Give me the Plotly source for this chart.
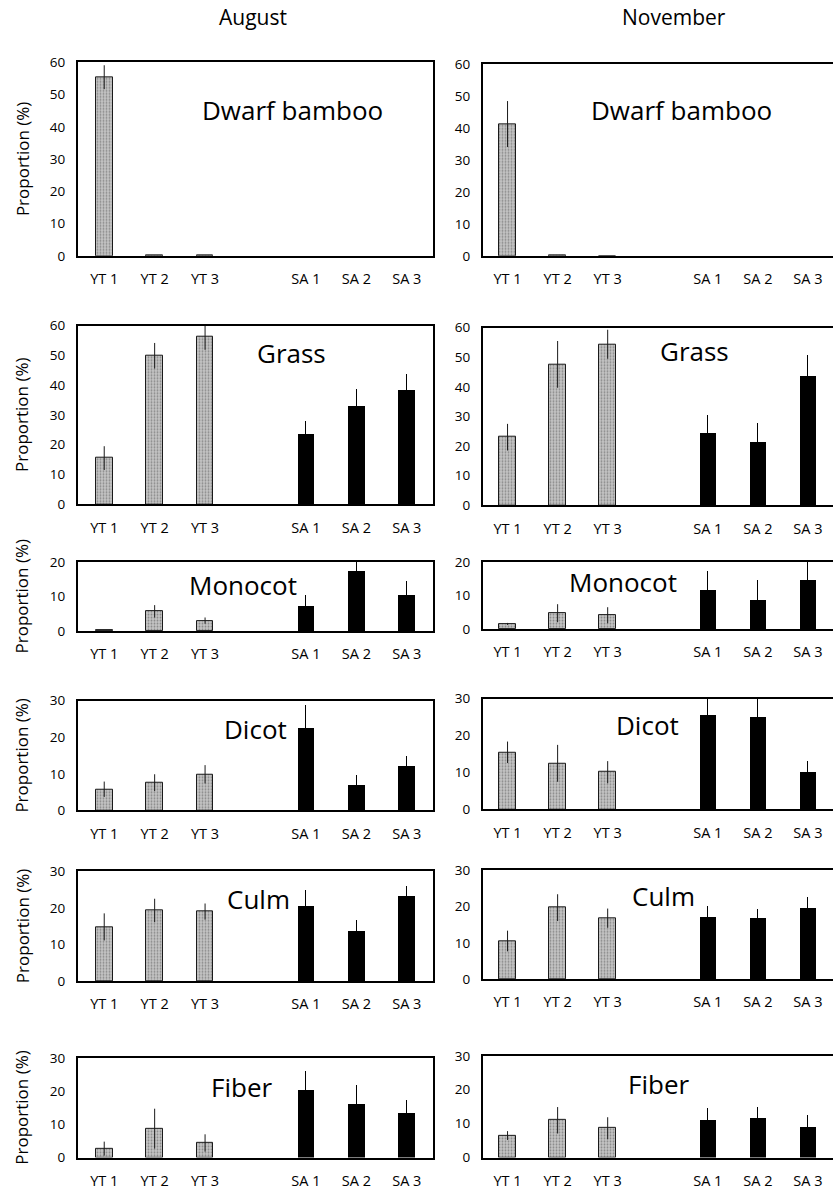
import plotly.graph_objects as go

W, H = 833, 1190

categories = ["YT 1", "YT 2", "YT 3", "SA 1", "SA 2", "SA 3"]
slots = [0, 1, 2, 4, 5, 6]
months = ["August", "November"]
panels = ["Dwarf bamboo", "Grass", "Monocot", "Dicot", "Culm", "Fiber"]
y_max = [60, 60, 20, 30, 30, 30]

aug_dwarf = [55.4, 0.3, 0.3, 0, 0, 0]
aug_dwarf_err = [3.7, 0, 0, 0, 0, 0]
nov_dwarf = [41.3, 0.3, 0, 0, 0, 0]
nov_dwarf_err = [7.2, 0, 0, 0, 0, 0]

aug_grass = [15.5, 49.9, 56.4, 23.7, 33.2, 38.5]
aug_grass_err = [4.0, 4.3, 4.5, 4.2, 5.6, 5.1]
nov_grass = [23.0, 47.6, 54.4, 24.4, 21.5, 43.8]
nov_grass_err = [4.5, 7.9, 4.9, 6.2, 6.3, 6.9]

aug_mono = [0.3, 5.7, 3.0, 7.3, 17.4, 10.5]
aug_mono_err = [0, 1.8, 0.9, 3.0, 5.3, 4.0]
nov_mono = [1.5, 4.7, 4.1, 11.5, 8.7, 14.6]
nov_mono_err = [0.3, 2.7, 2.4, 5.7, 5.8, 5.6]

aug_dicot = [5.8, 7.6, 9.9, 22.7, 7.0, 12.2]
aug_dicot_err = [2.1, 2.3, 2.5, 6.2, 2.7, 2.8]
nov_dicot = [15.5, 12.5, 10.1, 25.6, 25.1, 10.2]
nov_dicot_err = [2.9, 5.0, 3.0, 4.6, 5.0, 3.0]

aug_culm = [14.8, 19.3, 19.0, 20.4, 13.5, 23.1]
aug_culm_err = [3.7, 3.2, 2.2, 4.5, 3.1, 2.8]
nov_culm = [10.5, 19.7, 16.8, 17.0, 16.7, 19.6]
nov_culm_err = [2.85, 3.7, 2.65, 3.2, 2.6, 3.0]

aug_fiber = [2.7, 8.7, 4.4, 20.5, 16.3, 13.6]
aug_fiber_err = [2.1, 6.0, 2.6, 5.5, 5.4, 3.6]
nov_fiber = [6.5, 11.0, 8.65, 11.2, 11.6, 9.1]
nov_fiber_err = [1.3, 3.9, 3.25, 3.55, 3.35, 3.6]

aug_vals = [aug_dwarf, aug_grass, aug_mono, aug_dicot, aug_culm, aug_fiber]
aug_errs = [aug_dwarf_err, aug_grass_err, aug_mono_err, aug_dicot_err, aug_culm_err, aug_fiber_err]
nov_vals = [nov_dwarf, nov_grass, nov_mono, nov_dicot, nov_culm, nov_fiber]
nov_errs = [nov_dwarf_err, nov_grass_err, nov_mono_err, nov_dicot_err, nov_culm_err, nov_fiber_err]

# ---- layout (pixel geometry) ----
col_x = [(78, 433), (483, 833)]
col_range = [(-0.52, 6.52), (-0.49, 6.5)]
row_y = [
    [(63, 257), (65, 257)],
    [(327, 506), (329, 507)],
    [(564, 633), (564, 631)],
    [(703, 813), (701, 812)],
    [(874, 984), (873, 982)],
    [(1061, 1161), (1059, 1161)],
]
label_pos = [
    [(292, 111), (681, 111)],
    [(291, 354), (694, 352)],
    [(243, 587), (623, 584)],
    [(256, 731), (647, 727)],
    [(258, 902), (663, 899)],
    [(241, 1090), (658, 1087)],
]
title_pos = [(253, 18), (674, 18)]

FONT = "Open Sans"
Y_OFF, Y_SCALE = 9.5, 0.984   # compensation for observed vertical mapping


def px_x(x):
    return x / W


def px_y(y):
    return 1 - ((y - Y_OFF) / Y_SCALE) / H


fig = go.Figure()
layout = dict(
    width=W, height=H, margin=dict(l=0, r=0, t=0, b=0),
    paper_bgcolor="white", plot_bgcolor="white",
    showlegend=False, bargap=0, barmode="overlay",
    font=dict(family=FONT, color="black"),
)
annotations = []

k = 0
for r in range(6):
    for c in range(2):
        k += 1
        xa = "x" if k == 1 else f"x{k}"
        ya = "y" if k == 1 else f"y{k}"
        vals = (aug_vals if c == 0 else nov_vals)[r]
        errs = (aug_errs if c == 0 else nov_errs)[r]
        fig.add_trace(go.Bar(
            x=slots[:3], y=vals[:3], width=0.33,
            xaxis=xa, yaxis=ya, cliponaxis=False,
            marker=dict(color="#b8b8b8",
                        line=dict(color="#1a1a1a", width=1),
                        pattern=dict(shape=".", fgcolor="#4a4a4a", bgcolor="#c4c4c4",
                                     size=3, solidity=0.3)),
            error_y=dict(type="data", array=errs[:3], visible=True,
                         color="#1a1a1a", thickness=1, width=0),
        ))
        fig.add_trace(go.Bar(
            x=slots[3:], y=vals[3:], width=0.33,
            xaxis=xa, yaxis=ya, cliponaxis=False,
            marker=dict(color="black", line=dict(color="black", width=0)),
            error_y=dict(type="data", array=errs[3:], visible=True,
                         color="black", thickness=1, width=0),
        ))
        x0, x1 = col_x[c]
        y0, y1 = row_y[r][c]
        layout["xaxis" if k == 1 else f"xaxis{k}"] = dict(
            domain=[px_x(x0), min(1.0, px_x(x1))], anchor=ya,
            range=list(col_range[c]), tickvals=slots, ticktext=categories,
            showgrid=False, zeroline=False, showline=True, mirror=True,
            linecolor="black", linewidth=2, ticks="", ticklabelstandoff=9,
            tickfont=dict(size=14.5, family=FONT, color="black"),
        )
        layout["yaxis" if k == 1 else f"yaxis{k}"] = dict(
            domain=[px_y(y1), px_y(y0)], anchor=xa,
            range=[0, y_max[r]], dtick=10, tick0=0,
            showgrid=False, zeroline=False, showline=True, mirror=(c == 0),
            linecolor="black", linewidth=2, ticks="", ticklabelstandoff=8,
            tickfont=dict(size=13.5, family=FONT, color="black"),
        )
        lx, ly = label_pos[r][c]
        annotations.append(dict(
            text=panels[r], x=px_x(lx), y=px_y(ly), xref="paper", yref="paper",
            showarrow=False, xanchor="center", yanchor="middle",
            font=dict(size=26, family=FONT, color="black"),
        ))
        if c == 0:
            annotations.append(dict(
                text="Proportion (%)", x=px_x(22), y=px_y((y0 + y1) / 2),
                xref="paper", yref="paper", showarrow=False, textangle=-90,
                xanchor="center", yanchor="middle",
                font=dict(size=17, family=FONT, color="black"),
            ))

for c in range(2):
    tx, ty = title_pos[c]
    annotations.append(dict(
        text=months[c], x=px_x(tx), y=px_y(ty), xref="paper", yref="paper",
        showarrow=False, xanchor="center", yanchor="middle",
        font=dict(size=21, family=FONT, color="black"),
    ))

layout["annotations"] = annotations
fig.update_layout(**layout)
fig.write_html("out.html", config={"displayModeBar": False},
               post_script="document.body.style.margin='0';")
